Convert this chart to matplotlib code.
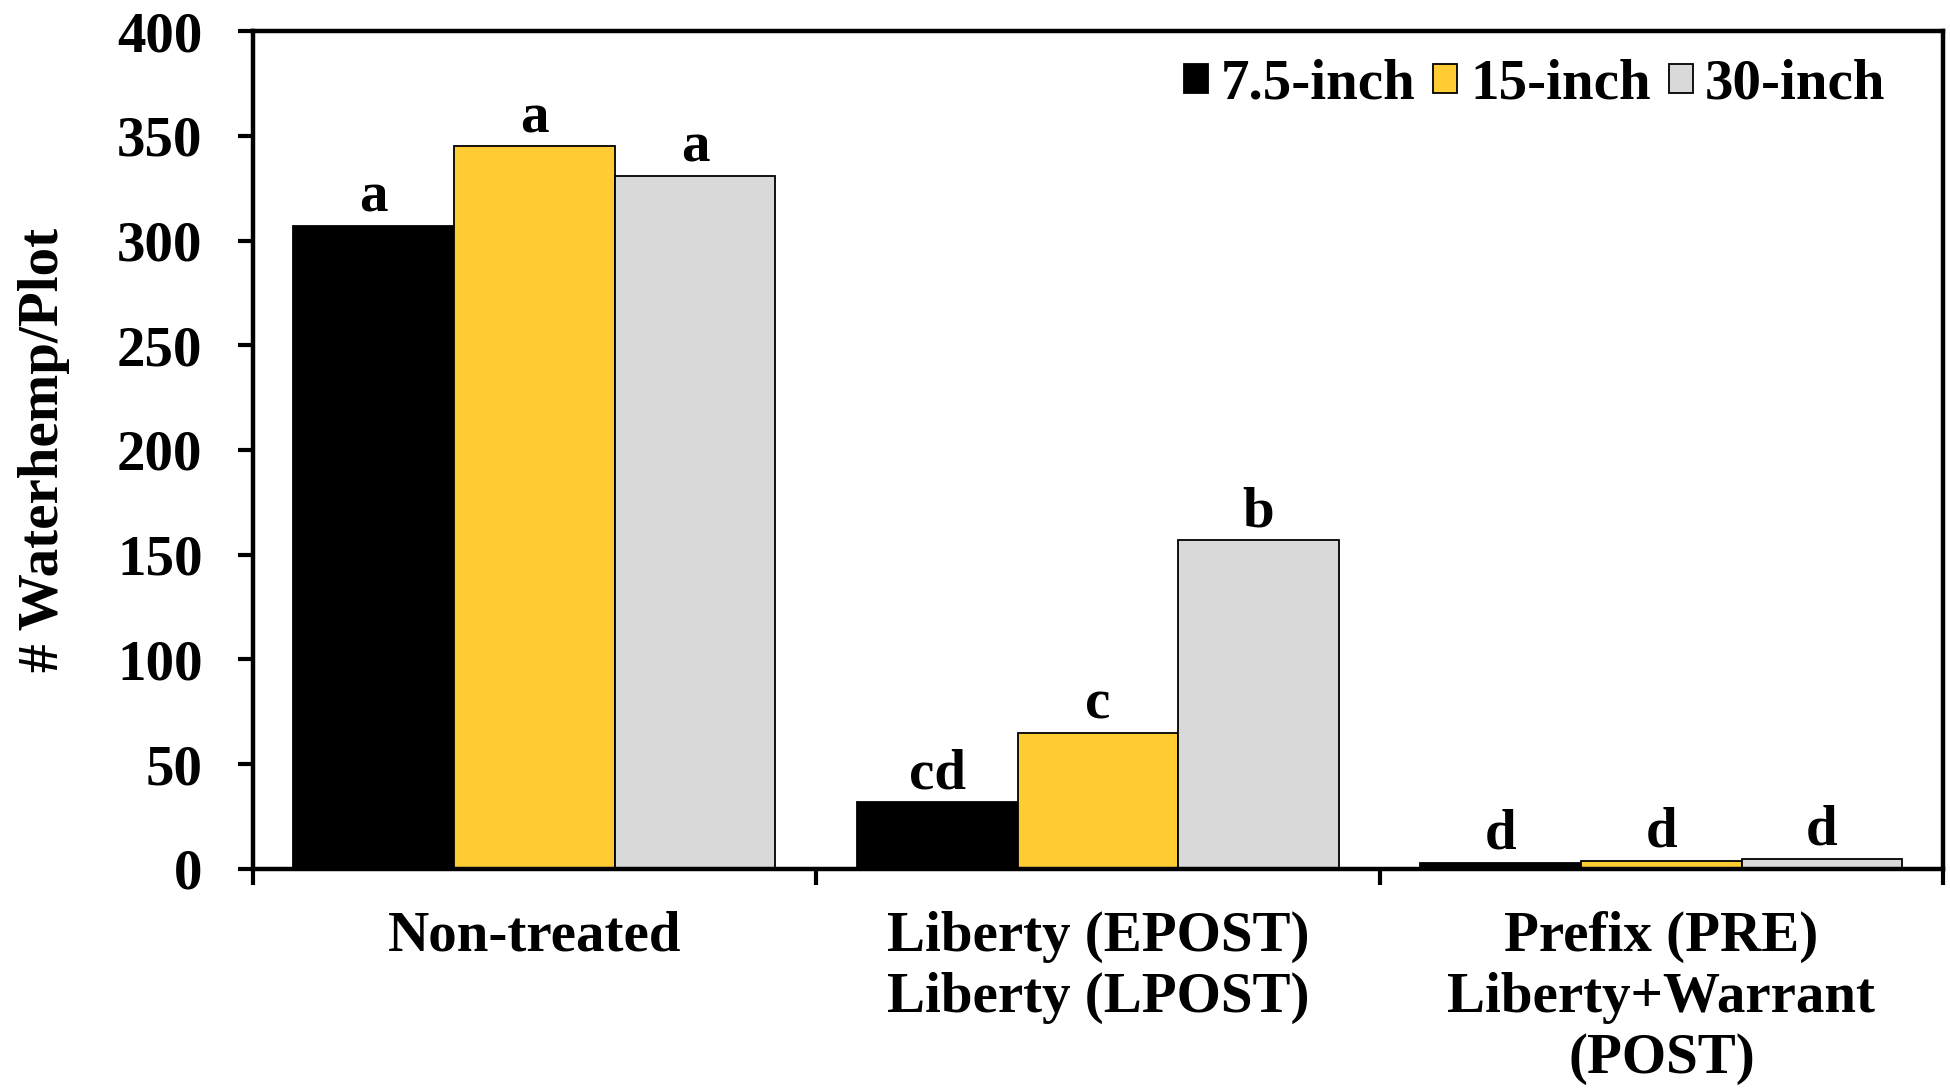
import matplotlib
matplotlib.use("Agg")
import matplotlib.pyplot as plt
import numpy as np

# Waterhemp counts per plot by herbicide program and row spacing
categories = ["Non-treated", "Liberty (EPOST)\nLiberty (LPOST)",
              "Prefix (PRE)\nLiberty+Warrant\n(POST)"]
series = ["7.5-inch", "15-inch", "30-inch"]
values_75 = [307, 32, 3]
values_15 = [345, 65, 4]
values_30 = [331, 157, 5]
letters_75 = ["a", "cd", "d"]
letters_15 = ["a", "c", "d"]
letters_30 = ["a", "b", "d"]
yticks = [0, 50, 100, 150, 200, 250, 300, 350, 400]

colors = ["#000000", "#FFCC33", "#D9D9D9"]

plt.rcParams["font.family"] = ["Liberation Serif", "DejaVu Serif"]
plt.rcParams["font.weight"] = "bold"

fig = plt.figure(figsize=(19.5, 10.88), dpi=100)
ax = fig.add_axes([0.1295, 0.2013, 0.8670, 0.7702])

x = np.arange(len(categories))
bw = 0.285
all_vals = [values_75, values_15, values_30]
all_letters = [letters_75, letters_15, letters_30]
fs = 41

for i, (vals, lets, col, name) in enumerate(zip(all_vals, all_letters, colors, series)):
    pos = x + (i - 1) * bw
    ax.bar(pos, vals, width=bw, color=col, edgecolor="black", linewidth=1.3,
           label=name, zorder=2)
    for px, v, t in zip(pos, vals, lets):
        ax.annotate(t, (px, v), xytext=(0, 10), textcoords="offset points",
                    ha="center", va="baseline", fontsize=fs, fontweight="bold")

ax.set_xlim(-0.5, len(categories) - 0.5)
ax.set_ylim(0, 400)
ax.set_yticks(yticks)
ax.set_yticklabels([str(t) for t in yticks], fontsize=fs, fontweight="bold")

ax.set_xticks(x)
ax.set_xticklabels(categories, fontsize=fs, fontweight="bold", linespacing=1.23)
ax.tick_params(axis="x", which="major", length=0, pad=30)
ax.set_xticks(np.arange(len(categories) + 1) - 0.5, minor=True)
ax.tick_params(axis="x", which="minor", length=11.5, width=3, direction="out")
ax.tick_params(axis="y", which="major", length=11, width=3, direction="out", pad=25)

for sp in ax.spines.values():
    sp.set_linewidth(3.2)

ax.set_ylabel("# Waterhemp/Plot", fontsize=fs, fontweight="bold")
ax.yaxis.set_label_coords(-0.108, 0.5)

leg = ax.legend(loc="center right", bbox_to_anchor=(0.966, 0.936), ncol=3,
                frameon=False, handlelength=0.42, handleheight=0.42,
                handletextpad=0.22, columnspacing=0.32, borderaxespad=0,
                borderpad=0, prop={"size": fs, "weight": "bold"})

fig.savefig("out.png", dpi=100, facecolor="white")
